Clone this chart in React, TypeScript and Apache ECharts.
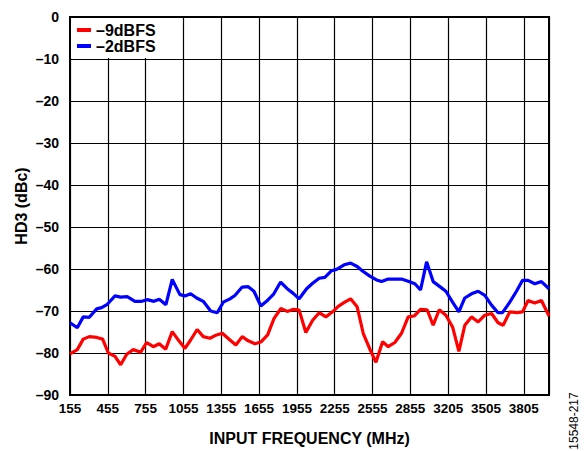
import React, { useEffect, useRef } from "react";
import * as echarts from "echarts";

const xTickLabels = ["155", "455", "755", "1055", "1355", "1655", "1955", "2255", "2555", "2855", "3205", "3505", "3805"];

const blueFreq = [155, 213, 260, 308, 367, 406, 451, 512, 557, 609, 670, 724, 768, 821, 863, 916, 966, 1027, 1067, 1112, 1160, 1212, 1271, 1323, 1371, 1424, 1463, 1521, 1569, 1614, 1669, 1714, 1772, 1826, 1878, 1926, 1973, 2032, 2080, 2132, 2177, 2230, 2270, 2330, 2381, 2433, 2481, 2534, 2587, 2627, 2679, 2732, 2785, 2838, 2891, 2936, 2984, 3036, 3089, 3137, 3190, 3240, 3287, 3340, 3393, 3446, 3499, 3551, 3586, 3644, 3697, 3745, 3789, 3842, 3895, 3955];
const blueHD3 = [-72.8, -74.0, -71.4, -71.5, -69.5, -69.2, -68.4, -66.4, -66.7, -66.6, -67.7, -67.7, -67.3, -67.7, -67.2, -68.5, -62.5, -66.1, -66.4, -65.9, -66.9, -67.7, -70.0, -70.4, -67.9, -67.1, -66.3, -64.3, -64.2, -65.3, -68.8, -67.7, -65.9, -63.1, -64.7, -65.8, -67.1, -64.7, -63.4, -62.2, -62.0, -60.4, -60.1, -59.0, -58.6, -59.4, -60.6, -61.7, -62.6, -63.0, -62.4, -62.4, -62.4, -62.9, -63.5, -65.0, -58.3, -63.0, -64.2, -65.3, -67.9, -70.2, -66.9, -65.9, -65.3, -66.3, -68.6, -70.4, -70.4, -67.9, -65.3, -62.7, -62.7, -63.5, -63.0, -64.7];

const redFreq = [155, 213, 260, 308, 367, 414, 459, 512, 557, 605, 657, 716, 763, 816, 863, 914, 966, 1019, 1067, 1112, 1164, 1212, 1265, 1318, 1363, 1424, 1471, 1521, 1569, 1622, 1669, 1723, 1773, 1828, 1878, 1929, 1973, 2026, 2080, 2132, 2185, 2238, 2283, 2328, 2381, 2433, 2481, 2534, 2582, 2635, 2679, 2732, 2785, 2838, 2885, 2936, 2988, 3036, 3084, 3137, 3190, 3240, 3287, 3340, 3393, 3446, 3499, 3551, 3591, 3644, 3702, 3745, 3789, 3842, 3895, 3955];
const redHD3 = [-80.2, -79.2, -76.7, -76.1, -76.3, -76.7, -80.0, -80.8, -82.8, -80.3, -79.2, -79.8, -77.5, -78.5, -77.8, -79.1, -74.9, -77.1, -78.9, -76.9, -74.4, -76.1, -76.5, -75.7, -75.3, -76.9, -78.1, -76.1, -77.1, -77.8, -77.4, -75.7, -71.8, -69.4, -70.1, -69.6, -69.8, -75.1, -72.2, -70.4, -71.4, -70.2, -68.9, -68.0, -67.1, -69.0, -75.3, -79.1, -82.2, -77.3, -78.5, -77.5, -75.3, -71.4, -71.2, -69.6, -69.7, -73.4, -69.7, -71.0, -73.8, -79.6, -73.4, -71.4, -72.6, -71.0, -70.6, -72.8, -73.4, -70.2, -70.4, -70.2, -67.5, -68.1, -67.5, -71.2];

const seriesNames = ["\u20139dBFS", "\u20132dBFS"];

const FONT = "'Liberation Sans', Arial, Helvetica, sans-serif";

export default function App() {
  const ref = useRef<HTMLDivElement>(null);
  useEffect(() => {
    if (!ref.current) return;
    const chart = echarts.init(ref.current, null, { renderer: "svg" });
    const red = redFreq.map((f, i) => [f, redHD3[i]]);
    const blue = blueFreq.map((f, i) => [f, blueHD3[i]]);
    chart.setOption({
      animation: false,
      backgroundColor: "#fff",
      grid: {
        left: 70,
        right: 38,
        top: 17,
        bottom: 52,
        show: true,
        borderColor: "#000",
        borderWidth: 2,
        backgroundColor: "transparent",
      },
      legend: {
        left: 71,
        top: 18,
        orient: "vertical",
        backgroundColor: "#fff",
        padding: [4, 4, 4, 6],
        itemGap: 0,
        itemWidth: 14,
        itemHeight: 4,
        icon: "rect",
        textStyle: { fontFamily: FONT, fontWeight: "bold", fontSize: 16, lineHeight: 16, color: "#000" },
        data: [seriesNames[0], seriesNames[1]],
        z: 10,
      },
      xAxis: {
        type: "value",
        min: 155,
        max: 3955,
        interval: 300,
        name: "INPUT FREQUENCY (MHz)",
        nameLocation: "middle",
        nameGap: 35,
        nameMoveOverlap: false,
        nameTextStyle: { fontFamily: FONT, fontWeight: "bold", fontSize: 16, color: "#000" },
        axisLine: { show: true, lineStyle: { color: "#000", width: 2 } },
        axisTick: { show: false },
        axisLabel: {
          fontFamily: FONT,
          fontWeight: "bold",
          fontSize: 13.5,
          color: "#000",
          margin: 6,
          formatter: (v: number) => {
            const k = (v - 155) / 300;
            if (Math.abs(k - Math.round(k)) > 1e-6) return "";
            return xTickLabels[Math.round(k)] ?? "";
          },
        },
        splitLine: { show: true, lineStyle: { color: "#000", width: 1.2 } },
      },
      yAxis: {
        type: "value",
        min: -90,
        max: 0,
        interval: 10,
        name: "HD3 (dBc)",
        nameLocation: "middle",
        nameRotate: 90,
        nameGap: 41,
        nameMoveOverlap: false,
        nameTextStyle: { fontFamily: FONT, fontWeight: "bold", fontSize: 16, color: "#000" },
        axisLine: { show: true, lineStyle: { color: "#000", width: 2 } },
        axisTick: { show: false },
        axisLabel: {
          fontFamily: FONT,
          fontWeight: "bold",
          fontSize: 14,
          color: "#000",
          margin: 11,
          formatter: (v: number) => String(v).replace("-", "\u2013"),
        },
        splitLine: { show: true, lineStyle: { color: "#000", width: 1.2 } },
      },
      graphic: [
        {
          type: "text",
          x: 574,
          y: 421,
          rotation: Math.PI / 2,
          style: {
            text: "15548-217",
            fontFamily: FONT,
            fontSize: 12,
            fill: "#000",
            textAlign: "center",
            textVerticalAlign: "middle",
          },
        },
      ],
      series: [
        {
          name: seriesNames[0],
          type: "line",
          data: red,
          symbol: "none",
          lineStyle: { color: "#ff0000", width: 3.2 },
          itemStyle: { color: "#ff0000" },
          z: 3,
        },
        {
          name: seriesNames[1],
          type: "line",
          data: blue,
          symbol: "none",
          lineStyle: { color: "#0000ff", width: 3.2 },
          itemStyle: { color: "#0000ff" },
          z: 3,
        },
      ],
    });
    return () => chart.dispose();
  }, []);
  return <div ref={ref} style={{ width: 587, height: 451, position: "absolute", left: 0, top: 0 }} />;
}
